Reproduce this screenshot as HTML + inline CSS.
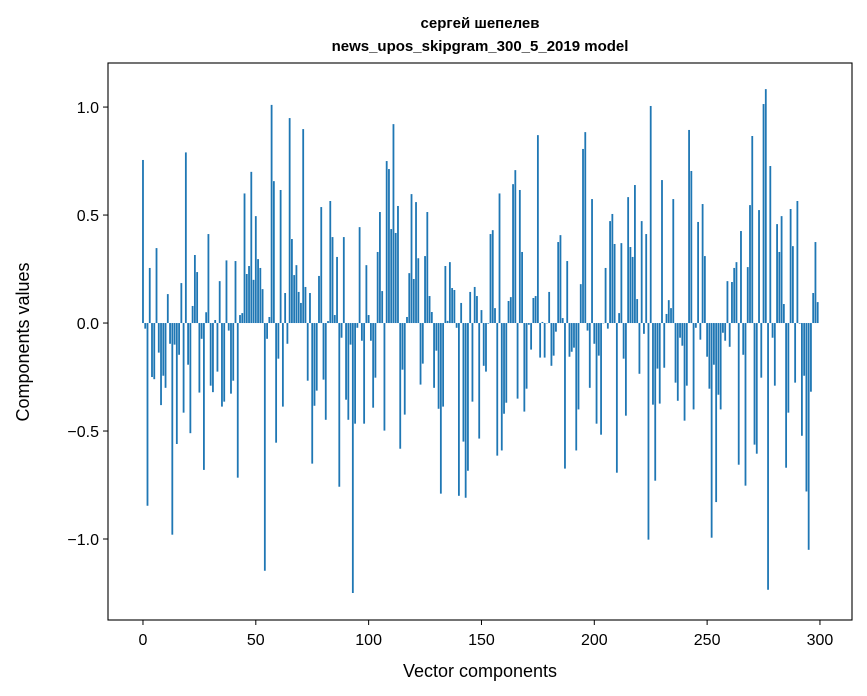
<!DOCTYPE html>
<html><head><meta charset="utf-8"><style>
body{margin:0;background:#fff;}
svg{display:block;font-family:"Liberation Sans","DejaVu Sans",sans-serif;}
</style></head><body>
<svg id="chart" width="867" height="696" viewBox="0 0 867 696">
<rect width="867" height="696" fill="#fff"/>
<text x="480" y="28" text-anchor="middle" font-size="15" font-weight="bold">сергей шепелев</text>
<text x="480" y="51" text-anchor="middle" font-size="15" font-weight="bold">news_upos_skipgram_300_5_2019 model</text>
<g id="bars"></g>
<g id="xticks"></g>
<g id="yticks"></g>
<rect x="108" y="63" width="744" height="557" fill="none" stroke="#000" stroke-width="1.1"/>
<text x="480" y="677" text-anchor="middle" font-size="18">Vector components</text>
<text x="0" y="0" transform="translate(29,342) rotate(-90)" text-anchor="middle" font-size="18">Components values</text>
</svg>
<script>
const values = [0.755,-0.026,-0.846,0.255,-0.25,-0.26,0.347,-0.137,-0.38,-0.244,-0.30,0.134,-0.096,-0.98,-0.10,-0.56,-0.147,0.185,-0.415,0.79,
-0.193,-0.51,0.079,0.315,0.236,-0.322,-0.073,-0.68,0.05,0.412,-0.29,-0.32,0.014,-0.225,0.194,-0.387,-0.364,0.29,-0.035,-0.327,
-0.267,0.287,-0.716,0.037,0.046,0.60,0.227,0.264,0.70,0.2,0.495,0.296,0.255,0.157,-1.147,-0.073,0.028,1.01,0.657,-0.554,
-0.165,0.616,-0.387,0.139,-0.096,0.949,0.389,0.222,0.268,0.144,0.093,0.898,0.167,-0.267,0.139,-0.651,-0.383,-0.313,0.218,0.537,
-0.262,-0.448,0.009,0.565,0.398,0.037,0.306,-0.758,-0.068,0.398,-0.355,-0.448,-0.10,-1.25,-0.466,-0.022,0.444,-0.082,-0.466,0.268,
0.037,-0.082,-0.392,-0.253,0.329,0.514,0.148,-0.498,0.75,0.713,0.435,0.921,0.417,0.542,-0.582,-0.216,-0.424,0.028,0.231,0.597,
0.204,0.56,0.30,-0.285,-0.188,0.31,0.514,0.125,0.051,-0.30,-0.128,-0.397,-0.79,-0.387,0.264,0.01,0.282,0.162,0.153,-0.022,
-0.80,0.093,-0.549,-0.809,-0.684,0.144,-0.364,0.167,0.125,-0.535,0.06,-0.198,-0.225,-0.003,0.412,0.43,0.069,-0.614,0.60,-0.59,
-0.42,-0.369,0.102,0.12,0.643,0.708,-0.35,0.616,0.329,-0.41,-0.304,-0.008,-0.123,0.116,0.125,0.87,-0.16,0.005,-0.16,0.0,
0.144,-0.198,-0.151,-0.04,0.375,0.407,0.023,-0.674,0.287,-0.156,-0.133,-0.114,-0.59,-0.40,0.18,0.806,0.884,-0.035,-0.30,0.574,
-0.096,-0.466,-0.151,-0.517,0.0,0.255,-0.026,0.472,0.505,0.366,-0.693,0.046,0.37,-0.165,-0.429,0.583,0.352,0.306,0.639,0.111,
-0.235,0.472,-0.05,0.412,-1.003,1.005,-0.378,-0.73,-0.211,-0.373,0.662,-0.207,0.042,0.106,0.069,0.574,-0.276,-0.36,-0.068,-0.105,
-0.452,-0.29,0.894,0.704,-0.40,-0.022,0.468,-0.077,0.551,0.31,-0.156,-0.304,-0.994,-0.193,-0.829,-0.332,-0.40,-0.045,-0.082,0.194,
-0.11,0.19,0.255,0.282,-0.656,0.426,-0.147,-0.753,0.259,0.546,0.866,-0.563,-0.605,0.523,-0.253,1.014,1.083,-1.235,0.727,-0.068,
-0.29,0.458,0.329,0.495,0.088,-0.67,-0.415,0.528,0.356,-0.276,0.565,-0.003,-0.522,-0.244,-0.78,-1.05,-0.318,0.139,0.375,0.097];
const xTickValues = [0,50,100,150,200,250,300];
const xTickLabels = ["0","50","100","150","200","250","300"];
const yTickValues = [-1.0,-0.5,0.0,0.5,1.0];
const yTickLabels = ["\u22121.0","\u22120.5","0.0","0.5","1.0"];

const NS="http://www.w3.org/2000/svg";
const L=108,R=852,T=63,B=620;
const xMin=-15.5,xMax=314.2,yMin=-1.375,yMax=1.204;
function xs(v){return L+(v-xMin)/(xMax-xMin)*(R-L);}
function ys(v){return T+(yMax-v)/(yMax-yMin)*(B-T);}
function mk(tag,attrs,parent){const e=document.createElementNS(NS,tag);for(const k in attrs)e.setAttribute(k,attrs[k]);parent.appendChild(e);return e;}
const bars=document.getElementById('bars');
const bw=xs(0.8)-xs(0);
values.forEach((v,i)=>{
  const y0=ys(0),y1=ys(v);
  const r=mk('rect',{x:xs(i)-bw/2,y:Math.min(y0,y1),width:bw,height:Math.max(Math.abs(y1-y0),0.3),fill:'#1f77b4'},bars);
  
  
});
const xt=document.getElementById('xticks');
xTickValues.forEach((v,i)=>{
  const x=xs(v);
  const l=mk('line',{x1:x,x2:x,y1:B,y2:B+5,stroke:'#000','stroke-width':1},xt);
  
  
  const t=mk('text',{x:x,y:B+25,'text-anchor':'middle','font-size':16},xt);
  t.textContent=xTickLabels[i];
  
  
});
const yt=document.getElementById('yticks');
yTickValues.forEach((v,i)=>{
  const y=ys(v);
  const l=mk('line',{x1:L-5,x2:L,y1:y,y2:y,stroke:'#000','stroke-width':1},yt);
  
  
  const t=mk('text',{x:L-9,y:y+6,'text-anchor':'end','font-size':16},yt);
  t.textContent=yTickLabels[i];
  
  
});
</script>
</body></html>
